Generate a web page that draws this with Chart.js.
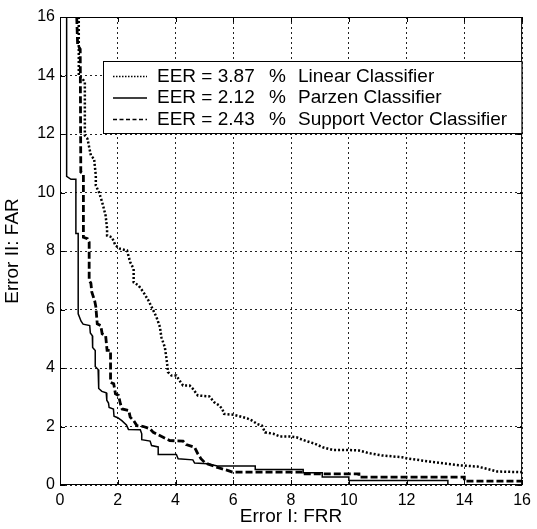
<!DOCTYPE html>
<html lang="en">
<head>
  <meta charset="UTF-8">
  <title>FAR / FRR curves</title>
  <script src="https://cdn.jsdelivr.net/npm/chart.js"></script>
  <style>
    body {
      margin: 0;
      background: #fff;
    }
    .wrap {
      position: relative;
      width: 537px;
      height: 529px;
    }
  </style>
</head>
<body>
  <div class="wrap">
    <canvas id="rocChart"></canvas>
  </div>

<script>
  // values (Error I: FRR on x, Error II: FAR on y)
  const linearX = [0.65, 0.65, 0.78, 0.86, 0.86, 0.95, 1.07, 1.18, 1.24, 1.24, 1.35, 1.46, 1.58, 1.63, 1.63, 1.8, 1.92, 2.09, 2.32, 2.43, 2.55, 2.55, 2.72, 2.89, 3.06, 3.23, 3.34, 3.46, 3.51, 3.63, 3.69, 3.74, 3.86, 4.03, 4.14, 4.26, 4.49, 4.6, 4.77, 5.17, 5.34, 5.51, 5.62, 5.68, 6.02, 6.25, 6.48, 6.65, 6.82, 6.99, 7.1, 7.39, 7.62, 7.96, 8.19, 8.36, 8.53, 8.8, 9.1, 9.44, 9.9, 10.35, 10.69, 11.15, 11.84, 12.06, 12.52, 12.97, 13.43, 13.89, 14.45, 14.8, 15.14, 16];
  const linearY = [16, 14.0, 13.89, 13.77, 11.95, 11.84, 11.26, 11.15, 10.58, 10.24, 10.01, 9.67, 9.21, 8.76, 8.53, 8.47, 8.19, 8.07, 8.02, 7.62, 7.39, 6.93, 6.82, 6.59, 6.31, 5.97, 5.74, 5.4, 5.05, 4.71, 4.31, 3.86, 3.74, 3.74, 3.57, 3.4, 3.4, 3.29, 3.06, 3.03, 2.83, 2.72, 2.6, 2.43, 2.4, 2.34, 2.28, 2.2, 2.09, 2.03, 1.8, 1.75, 1.66, 1.66, 1.63, 1.56, 1.5, 1.42, 1.29, 1.2, 1.2, 1.18, 1.09, 1.01, 0.95, 0.9, 0.84, 0.78, 0.72, 0.67, 0.63, 0.55, 0.46, 0.44];

  const parzenX = [0.23, 0.23, 0.38, 0.55, 0.55, 0.63, 0.63, 0.73, 0.8, 1.03, 1.05, 1.12, 1.13, 1.22, 1.22, 1.32, 1.34, 1.45, 1.6, 1.62, 1.68, 1.7, 1.85, 1.87, 2.0, 2.14, 2.3, 2.37, 2.78, 2.83, 2.83, 3.12, 3.17, 3.4, 3.4, 4.03, 4.09, 4.6, 4.66, 5.11, 5.45, 6.76, 6.76, 8.42, 8.42, 9.08, 9.08, 10.0, 10.0, 13.43, 13.43];
  const parzenY = [16, 10.55, 10.45, 10.45, 8.6, 8.6, 5.85, 5.6, 5.5, 5.45, 5.2, 5.1, 4.7, 4.6, 4.05, 3.95, 3.3, 3.2, 3.15, 2.9, 2.8, 2.65, 2.6, 2.35, 2.3, 2.2, 2.05, 1.9, 1.89, 1.75, 1.55, 1.5, 1.35, 1.3, 1.04, 1.04, 0.9, 0.86, 0.75, 0.73, 0.65, 0.65, 0.53, 0.53, 0.42, 0.42, 0.27, 0.27, 0.15, 0.15, 0];

  const svcX = [0.58, 0.61, 0.7, 0.72, 0.81, 0.81, 0.95, 1.01, 1.01, 1.07, 1.1, 1.2, 1.24, 1.29, 1.41, 1.46, 1.58, 1.63, 1.75, 1.75, 1.86, 1.92, 2.03, 2.09, 2.15, 2.38, 2.43, 2.55, 2.66, 2.89, 3.12, 3.23, 3.57, 3.8, 4.26, 4.37, 4.66, 4.77, 4.88, 5.0, 5.11, 5.45, 5.8, 5.97, 8.42, 8.42, 10.35, 10.35, 14.0, 14.0, 16];
  const svcY = [16, 15.05, 14.9, 10.7, 10.64, 8.47, 8.42, 8.3, 7.0, 6.9, 6.6, 6.3, 6.1, 5.51, 5.45, 5.17, 5.11, 4.6, 4.6, 3.51, 3.46, 3.12, 3.06, 2.78, 2.6, 2.55, 2.32, 2.2, 2.03, 2.0, 1.92, 1.8, 1.63, 1.52, 1.5, 1.38, 1.29, 1.07, 0.9, 0.78, 0.72, 0.6, 0.5, 0.44, 0.44, 0.38, 0.38, 0.27, 0.27, 0.13, 0.13];

  const seriesNames = ['Linear Classifier', 'Parzen Classifier', 'Support Vector Classifier'];
  const eerValues = ['3.87', '2.12', '2.43'];
  const axisTicks = [0, 2, 4, 6, 8, 10, 12, 14, 16];

  const FONT = '"Liberation Sans", Arial, Helvetica, sans-serif';

  function toPoints(xs, ys) {
    return xs.map((x, i) => ({ x: x, y: ys[i] }));
  }

  // legend sample styles, matching the dataset order
  const legendDash = [[1.5, 1.5], [], [4, 2.5]];

  // box round the plot, inward ticks, and the legend inside the plot
  const framePlugin = {
    id: 'frame',
    afterDatasetsDraw(chart) {
      const ctx = chart.ctx;
      const a = chart.chartArea;
      const xs = chart.scales.x;
      const ys = chart.scales.y;
      ctx.save();
      ctx.strokeStyle = '#000';
      ctx.lineWidth = 1;
      ctx.setLineDash([]);
      ctx.beginPath();
      axisTicks.forEach(t => {
        const px = Math.round(xs.getPixelForValue(t)) + 0.5;
        ctx.moveTo(px, a.bottom); ctx.lineTo(px, a.bottom - 5);
        ctx.moveTo(px, a.top); ctx.lineTo(px, a.top + 5);
        const py = Math.round(ys.getPixelForValue(t)) + 0.5;
        ctx.moveTo(a.left, py); ctx.lineTo(a.left + 5, py);
        ctx.moveTo(a.right, py); ctx.lineTo(a.right - 5, py);
      });
      ctx.stroke();
      ctx.strokeRect(a.left + 0.5, a.top + 0.5, a.right - a.left - 1, a.bottom - a.top - 1);

      // legend
      const bx = a.left + 43, by = a.top + 44, bw = a.right - bx - 0.5, bh = 72;
      ctx.fillStyle = '#fff';
      ctx.fillRect(bx, by, bw, bh);
      ctx.strokeRect(bx + 0.5, by + 0.5, bw, bh);
      ctx.font = '19px ' + FONT;
      ctx.fillStyle = '#000';
      ctx.textBaseline = 'middle';
      chart.data.datasets.forEach((ds, i) => {
        const cy = by + 15.5 + i * 21.5;
        ctx.save();
        ctx.lineWidth = 1.3;
        ctx.setLineDash(legendDash[i]);
        ctx.beginPath();
        ctx.moveTo(bx + 10, cy);
        ctx.lineTo(bx + 44, cy);
        ctx.stroke();
        ctx.restore();
        ctx.fillText('EER = ' + eerValues[i], bx + 54, cy);
        ctx.fillText('%', bx + 166, cy);
        ctx.fillText(seriesNames[i], bx + 195, cy);
      });
      ctx.restore();
    }
  };

  const gridOpts = {
    color: '#222',
    lineWidth: 1,
    drawTicks: false
  };

  new Chart(document.getElementById('rocChart').getContext('2d'), {
    type: 'scatter',
    data: {
      datasets: [
        {
          label: seriesNames[0],
          data: toPoints(linearX, linearY),
          showLine: true,
          borderColor: '#000',
          borderWidth: 2.5,
          borderDash: [2, 2],
          pointRadius: 0,
          tension: 0
        },
        {
          label: seriesNames[1],
          data: toPoints(parzenX, parzenY),
          showLine: true,
          borderColor: '#000',
          borderWidth: 1.5,
          pointRadius: 0,
          tension: 0
        },
        {
          label: seriesNames[2],
          data: toPoints(svcX, svcY),
          showLine: true,
          borderColor: '#000',
          borderWidth: 2.8,
          borderDash: [7, 3],
          pointRadius: 0,
          tension: 0
        }
      ]
    },
    options: {
      responsive: true,
      maintainAspectRatio: false,
      animation: false,
      layout: { padding: { top: 17, right: 8, left: 0, bottom: 0 } },
      plugins: {
        legend: { display: false },
        tooltip: { enabled: false }
      },
      scales: {
        x: {
          type: 'linear',
          min: 0,
          max: 16,
          afterFit: s => { s.height = 44; },
          afterBuildTicks: s => { s.ticks = axisTicks.map(v => ({ value: v })); },
          ticks: { color: '#000', font: { family: FONT, size: 16 }, padding: 6 },
          grid: gridOpts,
          border: { display: false, dash: [2, 3] },
          title: {
            display: true,
            text: 'Error I: FRR',
            color: '#000',
            font: { family: FONT, size: 19 },
            padding: { top: 0, bottom: 1 }
          }
        },
        y: {
          type: 'linear',
          min: 0,
          max: 16,
          afterFit: s => { s.width = 60; },
          afterBuildTicks: s => { s.ticks = axisTicks.map(v => ({ value: v })); },
          ticks: { color: '#000', font: { family: FONT, size: 16 }, padding: 5 },
          grid: gridOpts,
          border: { display: false, dash: [2, 3] },
          title: {
            display: true,
            text: 'Error II: FAR',
            color: '#000',
            font: { family: FONT, size: 19 },
            padding: { top: 1, bottom: 0 }
          }
        }
      }
    },
    plugins: [framePlugin]
  });
</script>
</body>
</html>
